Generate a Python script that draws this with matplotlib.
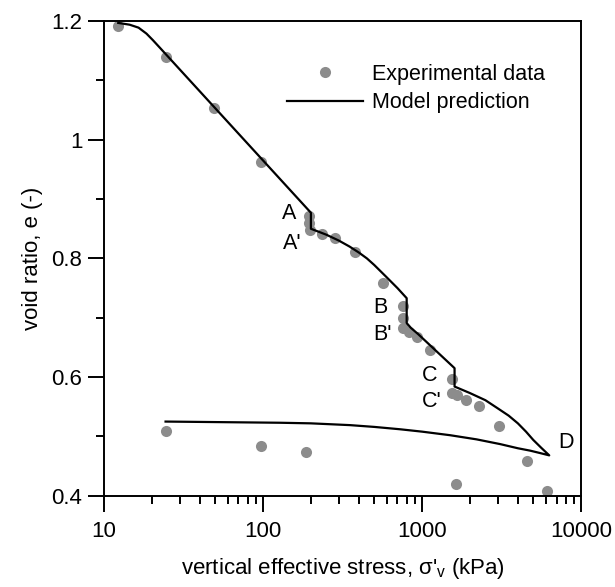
import matplotlib
matplotlib.use("Agg")
import matplotlib.pyplot as plt
from matplotlib.ticker import FixedLocator, FuncFormatter, LogLocator, NullFormatter

plt.rcParams['font.family'] = ['Liberation Sans', 'DejaVu Sans']
plt.rcParams['mathtext.fontset'] = 'custom'
plt.rcParams['mathtext.rm'] = 'Liberation Sans'
plt.rcParams['mathtext.it'] = 'Liberation Sans:italic'

# experimental data (loading, creep stages A-A', B-B', C-C', then unloading)
exp_stress = [12.3, 24.5, 49, 97, 195, 195, 197, 234, 284, 379, 571,
              760, 760, 758, 832, 927, 1122, 1546, 1546, 1652, 1893, 2291, 3048, 4550, 6085,
              1637, 186, 97, 24.4]
exp_void = [1.192, 1.139, 1.054, 0.963, 0.872, 0.859, 0.848, 0.842, 0.835, 0.810, 0.758,
            0.720, 0.699, 0.682, 0.676, 0.667, 0.645, 0.597, 0.573, 0.570, 0.562, 0.552, 0.518, 0.458, 0.408,
            0.419, 0.473, 0.484, 0.509]

# model prediction: loading to D, then unloading back
model_stress = [12.3, 14.5, 16.5, 18.5, 20.3, 22.5, 200,
                200, 250, 300, 350, 400, 450, 500, 600, 700, 800,
                800, 850, 948, 1600,
                1600, 2000, 2500, 3000, 3500, 4000, 4500, 5000, 5600, 6300,
                5500, 4775, 4000, 3097, 2200, 1500, 1000, 728, 500, 352, 200, 128, 56, 24.4]
model_void = [1.197, 1.194, 1.189, 1.179, 1.168, 1.155, 0.877,
              0.850, 0.840, 0.830, 0.820, 0.810, 0.800, 0.789, 0.768, 0.750, 0.733,
              0.691, 0.683, 0.672, 0.615,
              0.584, 0.573, 0.561, 0.547, 0.535, 0.522, 0.508, 0.494, 0.481, 0.468,
              0.472, 0.476, 0.480, 0.487, 0.495, 0.502, 0.508, 0.512, 0.516, 0.519, 0.522, 0.523, 0.524, 0.525]

point_labels = ['A', "A'", 'B', "B'", 'C', "C'", 'D']
label_stress = [146, 152, 545, 560, 1122, 1155, 8050]
label_void = [0.875, 0.826, 0.718, 0.672, 0.603, 0.559, 0.490]

fig = plt.figure(figsize=(6.15, 5.87), dpi=100)
ax = fig.add_axes([0.169, 0.1555, 0.776, 0.8085])

ax.plot(exp_stress, exp_void, 'o', color='#8c8c8c', markersize=8, markeredgewidth=0,
        label='Experimental data', zorder=2)
ax.plot(model_stress, model_void, '-', color='black', lw=1.6, label='Model prediction', zorder=3)

for t, xs, ys in zip(point_labels, label_stress, label_void):
    ax.text(xs, ys, t, fontsize=15.5, ha='center', va='center')

ax.set_xscale('log')
ax.set_xlim(10, 10000)
ax.set_ylim(0.4, 1.2)
ax.xaxis.set_major_locator(FixedLocator([10, 100, 1000, 10000]))
ax.xaxis.set_major_formatter(FuncFormatter(lambda v, p: f'{int(round(v))}'))
ax.xaxis.set_minor_locator(LogLocator(base=10, subs=range(2, 10)))
ax.xaxis.set_minor_formatter(NullFormatter())
ax.yaxis.set_major_locator(FixedLocator([0.4, 0.6, 0.8, 1.0, 1.2]))
ax.yaxis.set_minor_locator(FixedLocator([0.5, 0.7, 0.9, 1.1]))
ax.yaxis.set_major_formatter(FuncFormatter(lambda v, p: f'{v:g}'))

ax.tick_params(which='major', direction='out', length=11.5, width=1.4, labelsize=16, pad=4)
ax.tick_params(axis='x', which='major', pad=7)
ax.tick_params(which='minor', direction='out', length=6, width=1.4)
for s in ax.spines.values():
    s.set_linewidth(1.4)

ax.set_xlabel(r"vertical effective stress, σ'$_\mathrm{v}$ (kPa)", fontsize=16, labelpad=10)
ax.set_ylabel('void ratio, e (-)', fontsize=16, labelpad=6)

ax.legend(loc='upper left', bbox_to_anchor=(0.384, 0.91), frameon=False, fontsize=15.5,
          borderpad=0, borderaxespad=0, handlelength=3.5, handletextpad=0.45,
          labelspacing=0.35, numpoints=1)

fig.savefig('out.png', dpi=100)
